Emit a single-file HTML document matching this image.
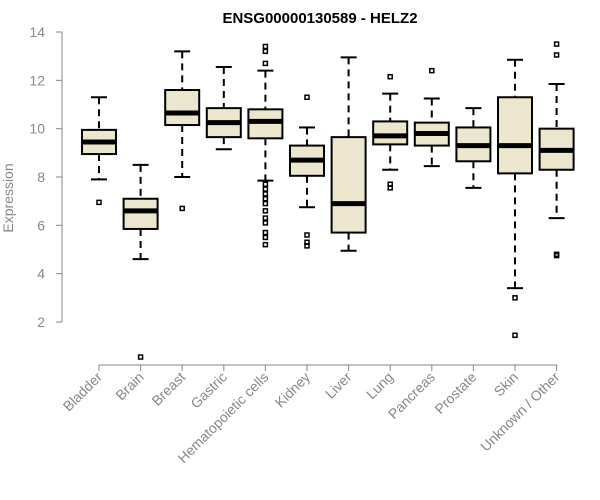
<!DOCTYPE html>
<html><head><meta charset="utf-8"><style>
body{margin:0;background:#fff;}
svg{display:block;font-family:"Liberation Sans",Arial,sans-serif;}
</style></head><body>
<svg id="chart" width="600" height="500">
<text x="320" y="23" text-anchor="middle" font-size="15" font-weight="bold">ENSG00000130589 - HELZ2</text>
<text transform="translate(13,198) rotate(-90)" text-anchor="middle" font-size="14" fill="#888">Expression</text>
<g id="yaxis"></g>
<g id="xaxis"></g>
<g id="boxes"></g>
</svg>
<script>
const categories=["Bladder","Brain","Breast","Gastric","Hematopoietic cells","Kidney","Liver","Lung","Pancreas","Prostate","Skin","Unknown / Other"];
const lowW=[7.9,4.6,8.0,9.15,7.85,6.75,4.95,8.3,8.45,7.55,3.4,6.3];
const q1=[8.95,5.85,10.15,9.65,9.6,8.05,5.7,9.35,9.3,8.65,8.15,8.3];
const med=[9.45,6.6,10.65,10.25,10.3,8.7,6.9,9.7,9.8,9.3,9.3,9.1];
const q3=[9.95,7.1,11.6,10.85,10.8,9.3,9.65,10.3,10.25,10.05,11.3,10.0];
const highW=[11.3,8.5,13.2,12.55,12.4,10.05,12.95,11.45,11.25,10.85,12.85,11.85];
const outliers=[[6.95],[0.55],[6.7],[],[7.7,7.5,7.3,7.1,6.9,6.6,6.3,6.1,5.7,5.5,5.2,12.7,13.2,13.4],[11.3,5.6,5.3,5.15],[],[12.15,7.7,7.55],[12.4],[],[3.0,1.45],[4.8,4.75,13.05,13.5]];
const yTicks=[2,4,6,8,10,12,14];
const NS="http://www.w3.org/2000/svg";
function y(v){return 322-(v-2)*290/12;}
function x(i){return 99+i*41.6;}
function mk(tag,attrs,parent){const e=document.createElementNS(NS,tag);for(const k in attrs)e.setAttribute(k,attrs[k]);parent.appendChild(e);return e;}
const ya=document.getElementById('yaxis');
mk('line',{x1:62,x2:62,y1:y(2),y2:y(14),stroke:'#888'},ya);
yTicks.forEach(t=>{
 mk('line',{x1:56,x2:62,y1:y(t),y2:y(t),stroke:'#888'},ya);
 const tx=mk('text',{x:45,y:y(t)+5,'text-anchor':'end','font-size':14,fill:'#888'},ya);
 tx.textContent=t;
 
 
});
const xa=document.getElementById('xaxis');
mk('line',{x1:x(0),x2:x(11),y1:365,y2:365,stroke:'#888'},xa);
const bx=document.getElementById('boxes');
categories.forEach((c,i)=>{
 const cx=x(i);
 mk('line',{x1:cx,x2:cx,y1:365,y2:371,stroke:'#888'},xa);
 const t=mk('text',{transform:`translate(${cx+4},${378}) rotate(-45)`,'text-anchor':'end','font-size':14,fill:'#888'},xa);
 t.textContent=c;
 
 
 const g=mk('g',{},bx);
 
 
 const hw=17,cw=8;
 mk('line',{x1:cx,x2:cx,y1:y(highW[i]),y2:y(q3[i]),stroke:'#000','stroke-width':2,'stroke-dasharray':'7,5'},g);
 mk('line',{x1:cx,x2:cx,y1:y(q1[i]),y2:y(lowW[i]),stroke:'#000','stroke-width':2,'stroke-dasharray':'7,5'},g);
 mk('line',{x1:cx-cw,x2:cx+cw,y1:y(highW[i]),y2:y(highW[i]),stroke:'#000','stroke-width':2},g);
 mk('line',{x1:cx-cw,x2:cx+cw,y1:y(lowW[i]),y2:y(lowW[i]),stroke:'#000','stroke-width':2},g);
 mk('rect',{x:cx-hw,y:y(q3[i]),width:2*hw,height:y(q1[i])-y(q3[i]),fill:'#ede6cf',stroke:'#000','stroke-width':2},g);
 mk('line',{x1:cx-hw,x2:cx+hw,y1:y(med[i]),y2:y(med[i]),stroke:'#000','stroke-width':5},g);
 outliers[i].forEach(o=>{
  const p=mk('rect',{x:cx-2,y:y(o)-2,width:4,height:4,fill:'none',stroke:'#000','stroke-width':1.5},g);
  
  
 });
});
</script>
</body></html>
